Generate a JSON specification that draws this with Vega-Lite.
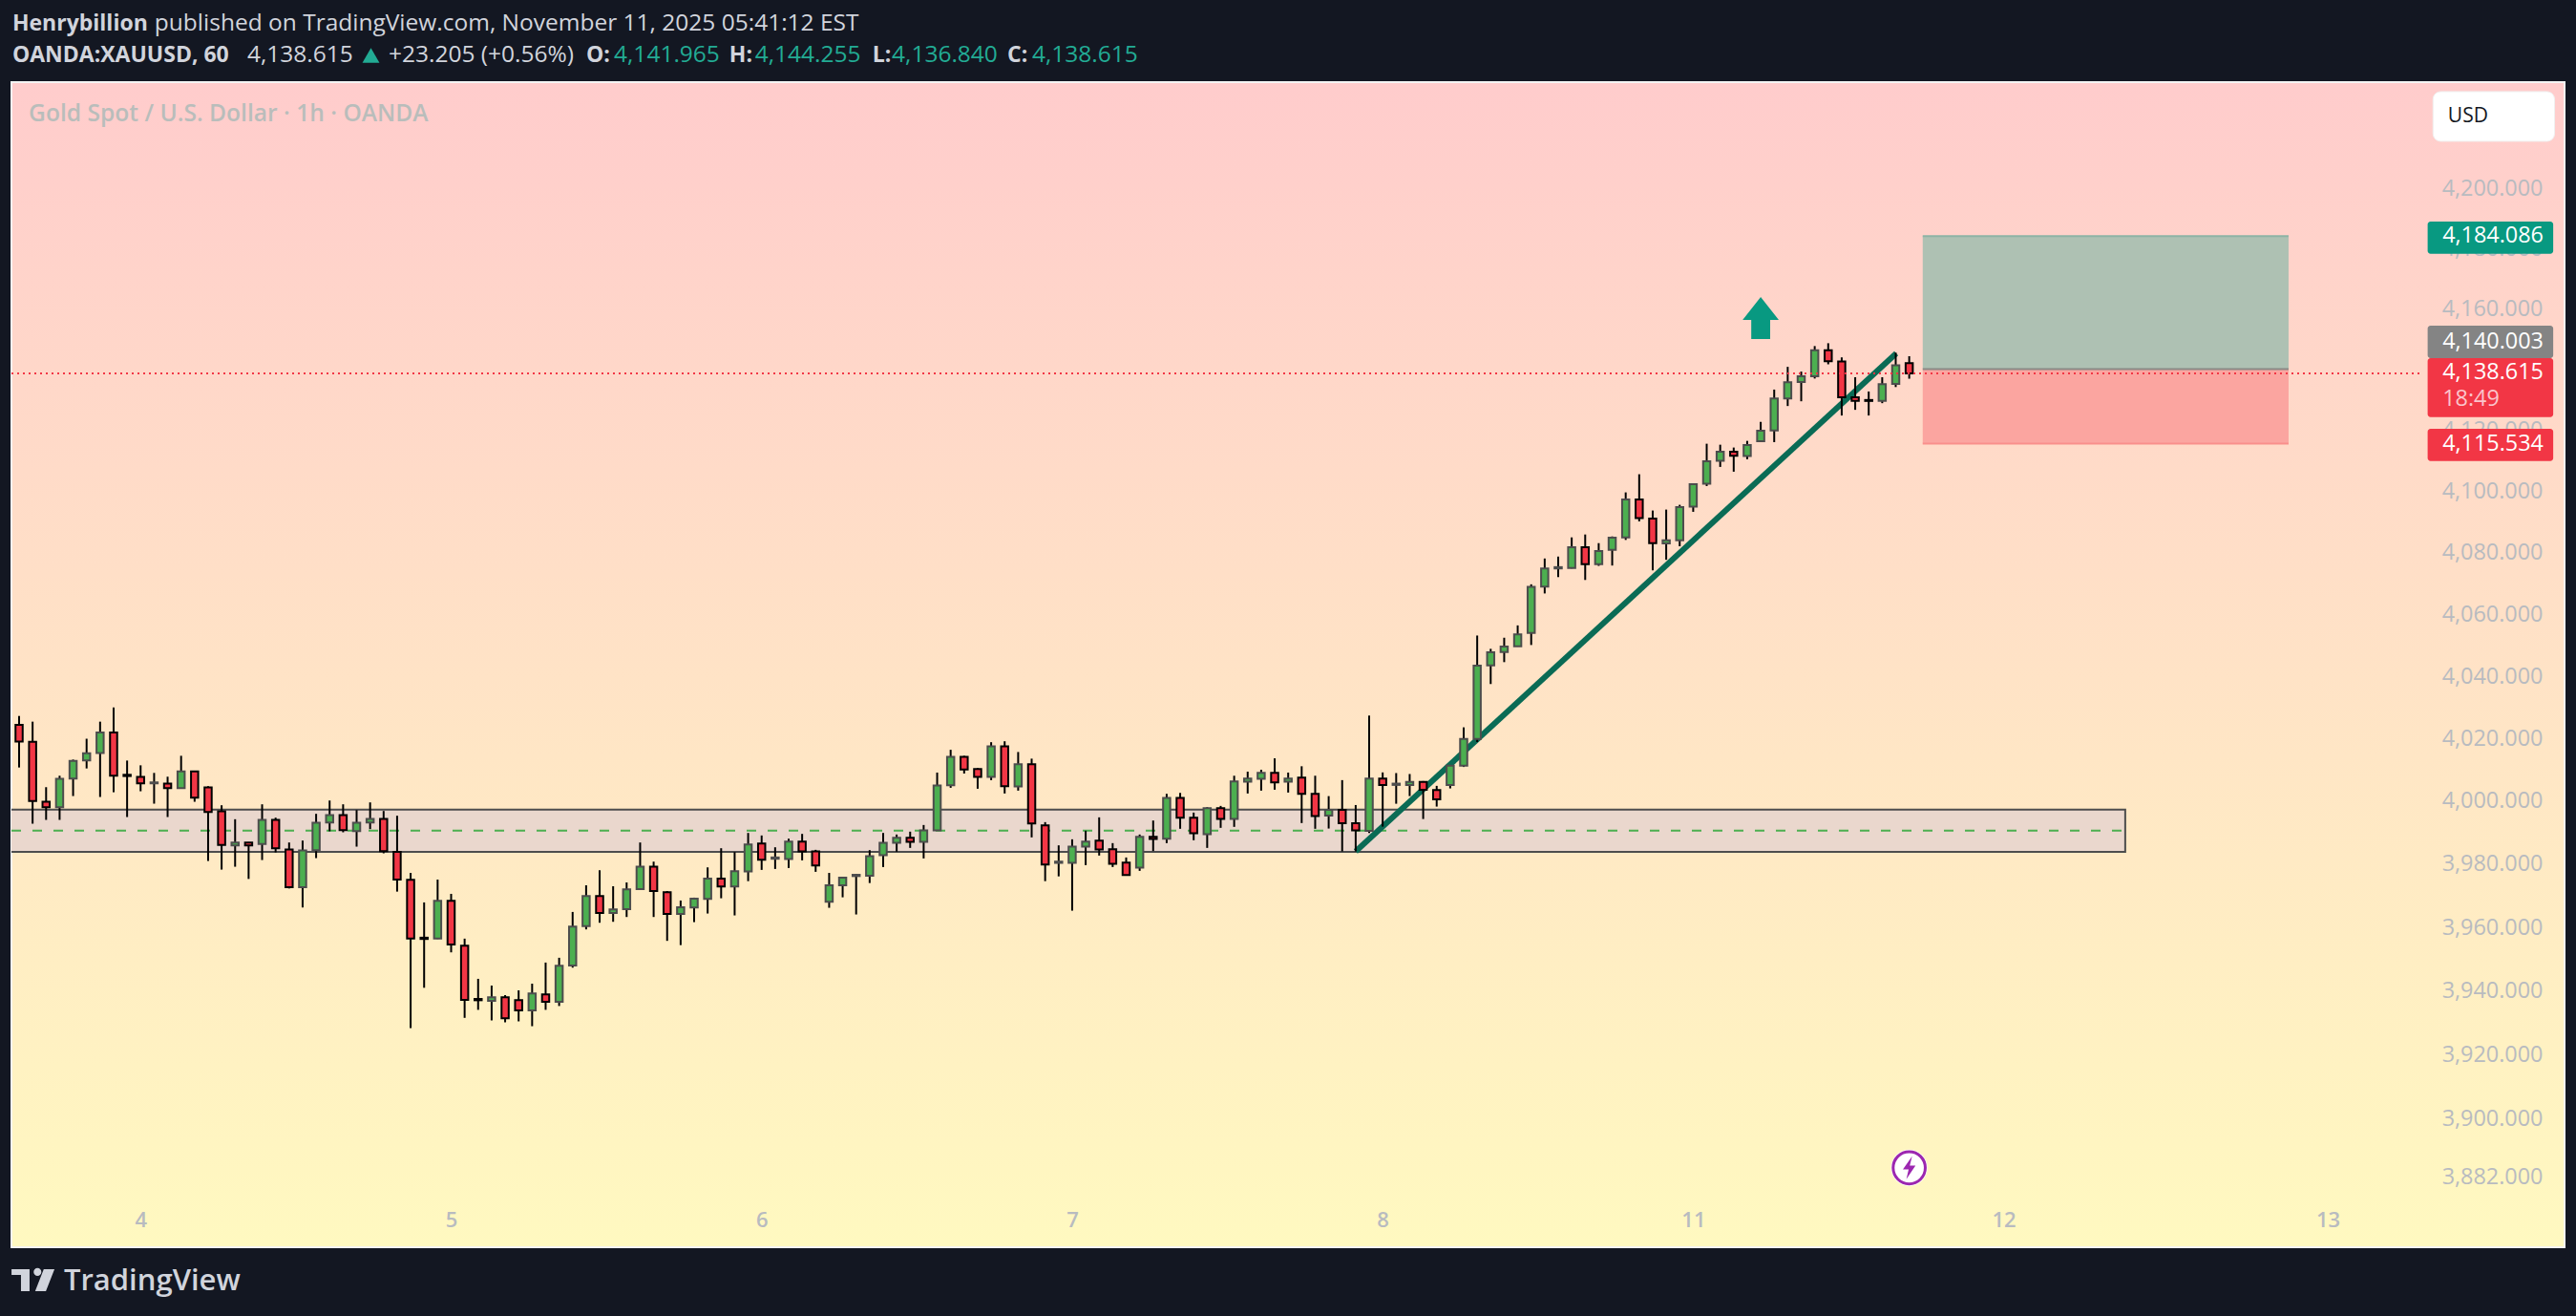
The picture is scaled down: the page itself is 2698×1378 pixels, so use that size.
{
  "$schema": "https://vega.github.io/schema/vega-lite/v6.json",
  "width": 2674,
  "height": 1220,
  "autosize": "none",
  "padding": {"left": 12, "top": 86, "right": 12, "bottom": 72},
  "background": "#131722",
  "view": {
    "fill": {"gradient": "linear", "x1": 0, "y1": 0, "x2": 0, "y2": 1, "stops": [{"offset": 0, "color": "#FFCCCC"}, {"offset": 1, "color": "#FFF9C0"}]},
    "stroke": "#f4f4f4",
    "strokeWidth": 2
  },
  "config": {
    "font": "Open Sans",
    "axis": {"title": null, "grid": false, "domain": false, "ticks": false, "labelColor": "#b8bbc0", "labelFont": "Open Sans", "labelFontSize": 23.4, "labelBaseline": "middle"}
  },
  "datasets": {
    "candles": [
      {"bar":0,"open":4024.38,"high":4027.22,"low":4010.73,"close":4019.02},
      {"bar":1,"open":4018.92,"high":4025.40,"low":3992.82,"close":4000.02},
      {"bar":2,"open":3999.80,"high":4004.45,"low":3994.03,"close":3998.08},
      {"bar":3,"open":3998.08,"high":4008.10,"low":3994.03,"close":4007.08},
      {"bar":4,"open":4007.19,"high":4013.26,"low":4001.62,"close":4012.85},
      {"bar":5,"open":4012.95,"high":4019.93,"low":4010.42,"close":4015.28},
      {"bar":6,"open":4015.38,"high":4025.40,"low":4001.32,"close":4021.96},
      {"bar":7,"open":4021.96,"high":4029.95,"low":4002.83,"close":4008.10},
      {"bar":8,"open":4008.40,"high":4012.95,"low":3994.94,"close":4008.00},
      {"bar":9,"open":4007.69,"high":4011.43,"low":4003.14,"close":4005.67},
      {"bar":10,"open":4005.67,"high":4009.00,"low":3999.19,"close":4005.97},
      {"bar":11,"open":4005.57,"high":4007.79,"low":3994.94,"close":4004.15},
      {"bar":12,"open":4004.15,"high":4014.47,"low":4004.05,"close":4009.51},
      {"bar":13,"open":4009.51,"high":4009.61,"low":3999.80,"close":4001.11},
      {"bar":14,"open":4004.35,"high":4004.76,"low":3980.98,"close":3996.56},
      {"bar":15,"open":3996.76,"high":3998.69,"low":3978.25,"close":3986.04},
      {"bar":16,"open":3985.94,"high":3994.24,"low":3979.16,"close":3986.85},
      {"bar":17,"open":3986.85,"high":3986.95,"low":3975.29,"close":3985.94},
      {"bar":18,"open":3986.34,"high":3998.99,"low":3981.28,"close":3994.03},
      {"bar":19,"open":3994.03,"high":3994.74,"low":3983.71,"close":3985.03},
      {"bar":20,"open":3984.62,"high":3986.85,"low":3972.28,"close":3972.69},
      {"bar":21,"open":3972.69,"high":3987.46,"low":3966.27,"close":3984.32},
      {"bar":22,"open":3984.42,"high":3995.96,"low":3981.89,"close":3993.12},
      {"bar":23,"open":3993.22,"high":4000.20,"low":3990.39,"close":3995.55},
      {"bar":24,"open":3995.55,"high":3998.99,"low":3990.09,"close":3990.80},
      {"bar":25,"open":3990.49,"high":3997.17,"low":3985.53,"close":3993.12},
      {"bar":26,"open":3993.22,"high":3999.60,"low":3991.10,"close":3994.34},
      {"bar":27,"open":3994.34,"high":3996.87,"low":3983.41,"close":3984.12},
      {"bar":28,"open":3983.91,"high":3995.35,"low":3971.28,"close":3975.09},
      {"bar":29,"open":3974.99,"high":3977.20,"low":3928.35,"close":3956.44},
      {"bar":30,"open":3956.74,"high":3967.87,"low":3940.99,"close":3956.34},
      {"bar":31,"open":3956.44,"high":3975.09,"low":3956.34,"close":3968.37},
      {"bar":32,"open":3968.37,"high":3970.58,"low":3952.12,"close":3954.63},
      {"bar":33,"open":3954.23,"high":3956.44,"low":3931.56,"close":3937.18},
      {"bar":34,"open":3937.48,"high":3943.80,"low":3934.07,"close":3937.08},
      {"bar":35,"open":3936.88,"high":3941.69,"low":3930.76,"close":3937.98},
      {"bar":36,"open":3937.98,"high":3938.68,"low":3930.16,"close":3931.46},
      {"bar":37,"open":3937.08,"high":3940.19,"low":3930.46,"close":3933.87},
      {"bar":38,"open":3933.87,"high":3942.29,"low":3928.95,"close":3939.19},
      {"bar":39,"open":3938.88,"high":3948.91,"low":3934.07,"close":3936.58},
      {"bar":40,"open":3936.58,"high":3950.42,"low":3935.27,"close":3947.91},
      {"bar":41,"open":3948.01,"high":3964.86,"low":3947.31,"close":3960.25},
      {"bar":42,"open":3960.35,"high":3973.29,"low":3959.35,"close":3969.88},
      {"bar":43,"open":3969.88,"high":3978.05,"low":3961.45,"close":3964.56},
      {"bar":44,"open":3964.56,"high":3972.99,"low":3961.75,"close":3965.66},
      {"bar":45,"open":3965.76,"high":3974.19,"low":3963.26,"close":3971.98},
      {"bar":46,"open":3972.08,"high":3986.85,"low":3971.98,"close":3979.16},
      {"bar":47,"open":3979.16,"high":3980.78,"low":3963.26,"close":3971.48},
      {"bar":48,"open":3971.08,"high":3971.48,"low":3955.74,"close":3964.26},
      {"bar":49,"open":3964.26,"high":3968.47,"low":3954.40,"close":3966.37},
      {"bar":50,"open":3966.27,"high":3969.38,"low":3961.65,"close":3969.08},
      {"bar":51,"open":3968.97,"high":3978.96,"low":3964.36,"close":3975.39},
      {"bar":52,"open":3975.39,"high":3985.03,"low":3969.18,"close":3972.89},
      {"bar":53,"open":3972.89,"high":3983.81,"low":3963.76,"close":3977.74},
      {"bar":54,"open":3977.64,"high":3989.88,"low":3974.59,"close":3986.24},
      {"bar":55,"open":3986.55,"high":3989.08,"low":3978.15,"close":3981.39},
      {"bar":56,"open":3981.69,"high":3985.33,"low":3978.45,"close":3982.10},
      {"bar":57,"open":3981.59,"high":3988.06,"low":3978.76,"close":3987.15},
      {"bar":58,"open":3987.15,"high":3989.58,"low":3981.18,"close":3984.02},
      {"bar":59,"open":3984.02,"high":3984.52,"low":3977.54,"close":3979.57},
      {"bar":60,"open":3968.07,"high":3977.20,"low":3966.17,"close":3973.29},
      {"bar":61,"open":3973.29,"high":3975.79,"low":3969.48,"close":3975.69},
      {"bar":62,"open":3976.20,"high":3976.90,"low":3964.06,"close":3976.60},
      {"bar":63,"open":3976.30,"high":3984.42,"low":3974.00,"close":3982.50},
      {"bar":64,"open":3982.80,"high":3989.88,"low":3979.06,"close":3986.75},
      {"bar":65,"open":3986.75,"high":3989.38,"low":3983.92,"close":3988.37},
      {"bar":66,"open":3988.37,"high":3990.29,"low":3985.13,"close":3987.05},
      {"bar":67,"open":3987.05,"high":3992.41,"low":3981.79,"close":3990.70},
      {"bar":68,"open":3990.70,"high":4009.11,"low":3990.59,"close":4004.96},
      {"bar":69,"open":4005.06,"high":4016.39,"low":4004.25,"close":4014.17},
      {"bar":70,"open":4014.17,"high":4014.47,"low":4008.80,"close":4010.12},
      {"bar":71,"open":4010.22,"high":4010.52,"low":4003.95,"close":4007.69},
      {"bar":72,"open":4007.69,"high":4018.82,"low":4006.68,"close":4017.50},
      {"bar":73,"open":4017.50,"high":4019.12,"low":4002.43,"close":4004.76},
      {"bar":74,"open":4004.66,"high":4015.68,"low":4003.34,"close":4011.74},
      {"bar":75,"open":4011.74,"high":4013.56,"low":3988.47,"close":3992.92},
      {"bar":76,"open":3992.31,"high":3993.32,"low":3974.59,"close":3979.87},
      {"bar":77,"open":3980.38,"high":3985.94,"low":3976.10,"close":3980.78},
      {"bar":78,"open":3980.38,"high":3987.86,"low":3965.26,"close":3985.54},
      {"bar":79,"open":3985.54,"high":3990.59,"low":3979.67,"close":3987.15},
      {"bar":80,"open":3987.46,"high":3994.84,"low":3982.70,"close":3984.62},
      {"bar":81,"open":3984.72,"high":3986.65,"low":3979.06,"close":3980.07},
      {"bar":82,"open":3980.48,"high":3982.10,"low":3976.40,"close":3976.50},
      {"bar":83,"open":3978.86,"high":3989.38,"low":3977.85,"close":3988.67},
      {"bar":84,"open":3988.67,"high":3993.83,"low":3984.12,"close":3987.96},
      {"bar":85,"open":3988.06,"high":4002.33,"low":3986.65,"close":4001.01},
      {"bar":86,"open":4001.01,"high":4002.63,"low":3991.20,"close":3994.74},
      {"bar":87,"open":3994.74,"high":3996.36,"low":3987.56,"close":3989.78},
      {"bar":88,"open":3989.48,"high":3998.08,"low":3985.13,"close":3997.78},
      {"bar":89,"open":3997.78,"high":3998.48,"low":3991.50,"close":3994.34},
      {"bar":90,"open":3994.34,"high":4008.10,"low":3991.81,"close":4006.27},
      {"bar":91,"open":4006.17,"high":4009.41,"low":4002.43,"close":4007.19},
      {"bar":92,"open":4007.08,"high":4010.02,"low":4003.34,"close":4009.01},
      {"bar":93,"open":4009.01,"high":4013.66,"low":4003.64,"close":4005.97},
      {"bar":94,"open":4006.17,"high":4009.11,"low":4002.73,"close":4007.19},
      {"bar":95,"open":4007.49,"high":4011.13,"low":3993.02,"close":4002.33},
      {"bar":96,"open":4002.33,"high":4008.10,"low":3991.20,"close":3995.25},
      {"bar":97,"open":3995.42,"high":4001.60,"low":3991.28,"close":3997.25},
      {"bar":98,"open":3997.25,"high":4006.70,"low":3984.00,"close":3993.00},
      {"bar":99,"open":3993.00,"high":3998.76,"low":3984.00,"close":3990.67},
      {"bar":100,"open":3990.57,"high":4027.35,"low":3989.86,"close":4007.22},
      {"bar":101,"open":4007.22,"high":4009.16,"low":3991.88,"close":4005.17},
      {"bar":102,"open":4005.17,"high":4008.95,"low":3999.17,"close":4005.58},
      {"bar":103,"open":4005.17,"high":4008.65,"low":4001.60,"close":4006.09},
      {"bar":104,"open":4006.09,"high":4006.40,"low":3994.31,"close":4003.64},
      {"bar":105,"open":4003.54,"high":4004.87,"low":3998.26,"close":4000.59},
      {"bar":106,"open":4005.17,"high":4011.41,"low":4004.05,"close":4011.30},
      {"bar":107,"open":4011.30,"high":4023.57,"low":4010.90,"close":4019.89},
      {"bar":108,"open":4019.89,"high":4053.10,"low":4018.87,"close":4043.40},
      {"bar":109,"open":4043.50,"high":4048.81,"low":4037.47,"close":4047.69},
      {"bar":110,"open":4047.79,"high":4052.39,"low":4044.52,"close":4049.53},
      {"bar":111,"open":4049.63,"high":4056.37,"low":4049.53,"close":4053.51},
      {"bar":112,"open":4053.92,"high":4069.66,"low":4050.04,"close":4068.84},
      {"bar":113,"open":4068.88,"high":4078.04,"low":4066.70,"close":4074.81},
      {"bar":114,"open":4074.81,"high":4078.66,"low":4072.00,"close":4075.23},
      {"bar":115,"open":4074.92,"high":4084.90,"low":4074.81,"close":4081.68},
      {"bar":116,"open":4081.68,"high":4085.84,"low":4071.07,"close":4076.16},
      {"bar":117,"open":4076.16,"high":4083.03,"low":4075.64,"close":4080.43},
      {"bar":118,"open":4080.84,"high":4085.21,"low":4075.75,"close":4084.80},
      {"bar":119,"open":4084.90,"high":4099.56,"low":4084.07,"close":4097.28},
      {"bar":120,"open":4097.28,"high":4105.49,"low":4090.10,"close":4091.14},
      {"bar":121,"open":4091.04,"high":4093.64,"low":4074.19,"close":4083.03},
      {"bar":122,"open":4082.92,"high":4093.95,"low":4077.62,"close":4083.96},
      {"bar":123,"open":4083.96,"high":4095.51,"low":4082.00,"close":4094.78},
      {"bar":124,"open":4094.88,"high":4102.37,"low":4093.22,"close":4102.27},
      {"bar":125,"open":4102.37,"high":4115.48,"low":4101.64,"close":4109.76},
      {"bar":126,"open":4109.86,"high":4115.16,"low":4107.88,"close":4112.88},
      {"bar":127,"open":4112.88,"high":4114.23,"low":4106.32,"close":4111.52},
      {"bar":128,"open":4111.42,"high":4116.41,"low":4110.38,"close":4115.06},
      {"bar":129,"open":4116.31,"high":4122.65,"low":4116.00,"close":4119.74},
      {"bar":130,"open":4119.84,"high":4133.26,"low":4116.00,"close":4130.35},
      {"bar":131,"open":4130.35,"high":4140.75,"low":4127.85,"close":4135.65},
      {"bar":132,"open":4135.76,"high":4139.19,"low":4129.41,"close":4137.63},
      {"bar":133,"open":4137.63,"high":4147.61,"low":4136.90,"close":4146.26},
      {"bar":134,"open":4146.26,"high":4148.55,"low":4141.58,"close":4142.62},
      {"bar":135,"open":4142.52,"high":4143.87,"low":4124.73,"close":4130.76},
      {"bar":136,"open":4130.76,"high":4137.32,"low":4126.60,"close":4129.52},
      {"bar":137,"open":4129.83,"high":4132.64,"low":4124.73,"close":4129.52},
      {"bar":138,"open":4129.52,"high":4137.32,"low":4128.79,"close":4135.03},
      {"bar":139,"open":4135.13,"high":4145.43,"low":4134.09,"close":4141.27},
      {"bar":140,"open":4141.965,"high":4144.255,"low":4136.84,"close":4138.615}
    ]
  },
  "encoding": {
    "x": {
      "field": "bar",
      "type": "quantitative",
      "scale": {"domain": [-0.566, 188.54], "nice": false, "zero": false, "padding": 0},
      "axis": {
        "orient": "bottom",
        "values": [9, 32, 55, 78, 101, 124, 147, 171],
        "labelExpr": "{9:'4',32:'5',55:'6',78:'7',101:'8',124:'11',147:'12',171:'13'}[datum.value]",
        "labelPadding": -29,
        "labelFontWeight": 600,
        "labelFontSize": 22,
        "labelAlign": "center"
      }
    },
    "y": {
      "field": "price",
      "type": "quantitative",
      "scale": {"type": "log", "domain": [3860.4, 4235.7], "nice": false, "zero": false},
      "axis": {
        "orient": "right",
        "values": [3882, 3900, 3920, 3940, 3960, 3980, 4000, 4020, 4040, 4060, 4080, 4100, 4120, 4140, 4160, 4180, 4200],
        "format": ",.3f",
        "labelAlign": "right",
        "labelPadding": -23
      }
    }
  },
  "layer": [
    {
      "data": {"values": [{"bar": -2, "bar2": 156, "price": 3997.3, "price2": 3983.9}]},
      "mark": {"type": "rect", "fill": "#EAD7CD", "stroke": "#4d4d4d", "strokeWidth": 2, "clip": true},
      "encoding": {"x2": {"field": "bar2"}, "y2": {"field": "price2"}}
    },
    {
      "data": {"values": [{"bar": -0.566, "bar2": 156, "price": 3990.6}]},
      "mark": {"type": "rule", "color": "#4CAF50", "strokeWidth": 2, "strokeDash": [10, 12]},
      "encoding": {"x2": {"field": "bar2"}}
    },
    {
      "data": {"values": [
        {"bar": 141, "bar2": 168.1, "price": 4184.086, "price2": 4140.003, "kind": "profit"},
        {"bar": 141, "bar2": 168.1, "price": 4140.003, "price2": 4115.534, "kind": "loss"}
      ]},
      "mark": {"type": "rect"},
      "encoding": {
        "x2": {"field": "bar2"},
        "y2": {"field": "price2"},
        "fill": {"field": "kind", "type": "nominal", "legend": null, "scale": {"domain": ["profit", "loss"], "range": ["#AEC1B3", "#FBA5A0"]}}
      }
    },
    {
      "data": {"values": [
        {"bar": 141, "bar2": 168.1, "price": 4184.086, "kind": "target"},
        {"bar": 141, "bar2": 168.1, "price": 4140.003, "kind": "entry"},
        {"bar": 141, "bar2": 168.1, "price": 4115.534, "kind": "stop"}
      ]},
      "mark": {"type": "rule", "strokeWidth": 2},
      "encoding": {
        "x2": {"field": "bar2"},
        "stroke": {"field": "kind", "type": "nominal", "legend": null, "scale": {"domain": ["target", "entry", "stop"], "range": ["#8db3a5", "#8a8a85", "#f98f8c"]}}
      }
    },
    {
      "data": {"values": [{"bar": 99, "price": 3984}, {"bar": 139.04, "price": 4145.2}]},
      "mark": {"type": "line", "color": "#0A6B55", "strokeWidth": 6}
    },
    {
      "data": {"name": "candles"},
      "mark": {"type": "rule", "color": "#000000", "strokeWidth": 2},
      "encoding": {
        "y": {"field": "high", "type": "quantitative", "scale": {"type": "log", "domain": [3860.4, 4235.7], "nice": false, "zero": false}},
        "y2": {"field": "low"}
      }
    },
    {
      "data": {"name": "candles"},
      "mark": {"type": "bar", "size": 7.5, "strokeWidth": 2},
      "encoding": {
        "y": {"field": "open", "type": "quantitative", "scale": {"type": "log", "domain": [3860.4, 4235.7], "nice": false, "zero": false}},
        "y2": {"field": "close"},
        "fill": {"condition": {"test": "datum.close >= datum.open", "value": "#4CAF50"}, "value": "#F23645"},
        "stroke": {"condition": {"test": "datum.close >= datum.open", "value": "#4d4d4d"}, "value": "#000000"}
      }
    },
    {
      "data": {"values": [{"bar": -0.566, "bar2": 178, "price": 4138.615}]},
      "mark": {"type": "rule", "color": "#F23645", "strokeWidth": 2, "strokeDash": [2, 4]},
      "encoding": {"x2": {"field": "bar2"}}
    },
    {
      "data": {"values": [{"bar": 129, "price": 4156.9}]},
      "mark": {"type": "point", "filled": true, "opacity": 1, "color": "#089981", "size": 1936, "shape": "M0,-1L0.86,0.09L0.45,0.09L0.45,1L-0.45,1L-0.45,0.09L-0.86,0.09Z"}
    },
    {
      "data": {"values": [{"bar": 140, "price": 3884.9}]},
      "mark": {"type": "point", "filled": true, "opacity": 1, "color": "#ffffff", "size": 1460, "shape": "circle"}
    },
    {
      "data": {"values": [{"bar": 140, "price": 3884.9}]},
      "mark": {"type": "point", "filled": false, "opacity": 1, "color": "#9C27B0", "strokeWidth": 3, "size": 1134, "shape": "circle"}
    },
    {
      "data": {"values": [{"bar": 140, "price": 3884.9}]},
      "mark": {"type": "point", "filled": true, "opacity": 1, "color": "#9C27B0", "size": 576, "shape": "M0.25,-1L-0.55,0.15L-0.05,0.15L-0.25,1L0.55,-0.2L0.05,-0.2Z"}
    },
    {
      "data": {"values": [
        {"bar": 178.4, "bar2": 187.7, "price": 4188.93, "price2": 4178.21, "kind": "target"},
        {"bar": 178.4, "bar2": 187.7, "price": 4154.35, "price2": 4143.63, "kind": "entry"},
        {"bar": 178.4, "bar2": 187.7, "price": 4143.63, "price2": 4124.24, "kind": "last"},
        {"bar": 178.4, "bar2": 187.7, "price": 4120.38, "price2": 4109.83, "kind": "stop"}
      ]},
      "mark": {"type": "rect", "cornerRadius": 3},
      "encoding": {
        "x2": {"field": "bar2"},
        "y2": {"field": "price2"},
        "color": {"field": "kind", "type": "nominal", "legend": null, "scale": {"domain": ["target", "entry", "last", "stop"], "range": ["#089981", "#848484", "#F23645", "#F23645"]}}
      }
    },
    {
      "data": {"values": [{"bar": 178.8, "bar2": 187.8, "price": 4232.5, "price2": 4215.8}]},
      "mark": {"type": "rect", "fill": "#ffffff", "stroke": "#f0f0f0", "cornerRadius": 8},
      "encoding": {"x2": {"field": "bar2"}, "y2": {"field": "price2"}}
    },
    {
      "data": {"values": [{"bar": 179.9, "price": 4224.2, "label": "USD"}]},
      "mark": {"type": "text", "align": "left", "baseline": "middle", "fontSize": 21, "color": "#131722"},
      "encoding": {"text": {"field": "label"}}
    },
    {
      "data": {"values": [
        {"bar": 179.5, "price": 4184.086, "label": "4,184.086"},
        {"bar": 179.5, "price": 4149.0, "label": "4,140.003"},
        {"bar": 179.5, "price": 4138.9, "label": "4,138.615"},
        {"bar": 179.5, "price": 4115.3, "label": "4,115.534"}
      ]},
      "mark": {"type": "text", "align": "left", "baseline": "middle", "fontSize": 23.4, "color": "#ffffff"},
      "encoding": {"text": {"field": "label"}}
    },
    {
      "data": {"values": [{"bar": 179.5, "price": 4130.1, "label": "18:49"}]},
      "mark": {"type": "text", "align": "left", "baseline": "middle", "fontSize": 23.4, "color": "#FBC5CB"},
      "encoding": {"text": {"field": "label"}}
    },
    {
      "data": {"values": [{"bar": 0.71, "price": 4224.8, "label": "Gold Spot / U.S. Dollar · 1h · OANDA"}]},
      "mark": {"type": "text", "align": "left", "baseline": "middle", "fontSize": 24.6, "fontWeight": 600, "color": "#b9bdbb"},
      "encoding": {"text": {"field": "label"}}
    },
    {
      "data": {"values": [
        {"bar": 10.03, "price": 4255.4, "label": "published on TradingView.com, November 11, 2025 05:41:12 EST"},
        {"bar": 16.9, "price": 4244.7, "label": "4,138.615"},
        {"bar": 27.37, "price": 4244.7, "label": "+23.205 (+0.56%)"}
      ]},
      "mark": {"type": "text", "align": "left", "baseline": "middle", "fontSize": 24.5, "color": "#d1d4dc"},
      "encoding": {"text": {"field": "label"}}
    },
    {
      "data": {"values": [
        {"bar": -0.5, "price": 4255.4, "label": "Henrybillion"},
        {"bar": -0.5, "price": 4244.7, "label": "OANDA:XAUUSD, 60"},
        {"bar": 42.0, "price": 4244.7, "label": "O:"},
        {"bar": 52.6, "price": 4244.7, "label": "H:"},
        {"bar": 63.2, "price": 4244.7, "label": "L:"},
        {"bar": 73.2, "price": 4244.7, "label": "C:"}
      ]},
      "mark": {"type": "text", "align": "left", "baseline": "middle", "fontSize": 23, "fontWeight": 700, "color": "#d1d4dc"},
      "encoding": {"text": {"field": "label"}}
    },
    {
      "data": {"values": [
        {"bar": 44.06, "price": 4244.7, "label": "4,141.965"},
        {"bar": 54.5, "price": 4244.7, "label": "4,144.255"},
        {"bar": 64.64, "price": 4244.7, "label": "4,136.840"},
        {"bar": 75.03, "price": 4244.7, "label": "4,138.615"}
      ]},
      "mark": {"type": "text", "align": "left", "baseline": "middle", "fontSize": 24.5, "color": "#22AB94"},
      "encoding": {"text": {"field": "label"}}
    },
    {
      "data": {"values": [{"bar": 26.06, "price": 4244.7}]},
      "mark": {"type": "point", "filled": true, "opacity": 1, "color": "#22AB94", "size": 320, "shape": "triangle-up"}
    },
    {
      "data": {"values": [{"bar": 1.03, "price": 3850.3}]},
      "mark": {"type": "point", "filled": true, "opacity": 1, "color": "#d1d4dc", "size": 2025, "shape": "M-1,-0.51L-0.16,-0.51L-0.16,0.51L-0.56,0.51L-0.56,-0.24L-1,-0.24Z M0.39,-0.38A0.18,0.18 0 1 1 0.03,-0.38A0.18,0.18 0 1 1 0.39,-0.38Z M0.5,-0.51L1,-0.51L0.6,0.51L0.1,0.51Z"}
    },
    {
      "data": {"values": [{"bar": 3.32, "price": 3849.8, "label": "TradingView"}]},
      "mark": {"type": "text", "align": "left", "baseline": "middle", "fontSize": 31, "fontWeight": 600, "color": "#d1d4dc"},
      "encoding": {"text": {"field": "label"}}
    }
  ]
}
